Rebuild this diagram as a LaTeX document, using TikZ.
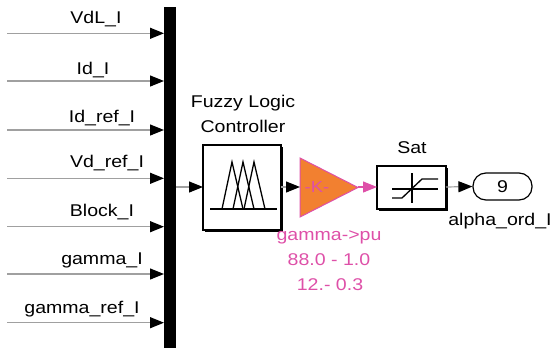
\documentclass[tikz,border=0pt]{standalone}
\usepackage{fontspec}
\setmainfont{Liberation Sans}[FakeStretch=1.15]
\usetikzlibrary{arrows.meta,shapes.geometric}
\definecolor{gainorange}{RGB}{242,128,48}
\definecolor{simpink}{RGB}{222,80,168}
\definecolor{sigline}{RGB}{160,160,160}
\tikzset{
  lbl/.style={anchor=base,inner sep=0pt,font=\fontsize{17}{19}\selectfont},
  pinklbl/.style={lbl,text=simpink},
  sig/.style={draw=sigline,line width=1.2pt,-{Triangle[length=14pt,width=11pt,color=black]}},
  pinksig/.style={draw=simpink,line width=1.2pt,-{Triangle[length=14pt,width=11pt,color=simpink]}},
  blk/.style={draw=black,line width=1.4pt,fill=white},
  shadow/.style={fill=black}
}
\begin{document}
\begin{tikzpicture}[x=1pt,y=-1pt]
\useasboundingbox (0,0) rectangle (552,351);
% bus bar
\fill[black] (164,7) rectangle (176,348);
\coordinate (busout) at (176,187);
% inputs
\foreach \n/\y/\cx/\by/\t in {a/33.3/96/23/VdL\_I, b/81/93/74/Id\_I, c/130/102/122/Id\_ref\_I, d/178.3/107/167/Vd\_ref\_I, e/226.7/102/216/Block\_I, f/274/102/264/gamma\_I, g/322.7/82/313/gamma\_ref\_I}{
  \coordinate (s\n) at (7,\y);
  \coordinate (t\n) at (164,\y);
  \draw[sig] (s\n) -- (t\n);
  \node[lbl] (l\n) at (\cx,\by) {\t};
}
% fuzzy block
\fill[shadow] (205,147) rectangle (283,232);
\draw[blk] (203,145) rectangle (281,230);
\coordinate (flcin) at (203,187);
\coordinate (flcout) at (281,187);
\draw[line width=1.3pt] (210,209) -- (277,209);
\draw[line width=1.3pt] (222,209) -- (232,162) -- (243,209);
\draw[line width=1.3pt] (233,209) -- (243,162) -- (254,209);
\draw[line width=1.3pt] (244,209) -- (254,162) -- (265,209);
\node[lbl] (fz1) at (243,107) {Fuzzy Logic};
\node[lbl] (fz2) at (243,132) {Controller};
\draw[sig] (busout) -- (flcin);
% gain
\draw[draw=simpink,fill=gainorange,line width=1pt] (300,158) -- (300,217) -- (358,187.5) -- cycle;
\coordinate (gin) at (300,187);
\coordinate (gout) at (358,187);
\node[inner sep=0pt,text=simpink,font=\fontsize{16}{18}\selectfont] (K) at (317,187) {-K-};
\draw[sig] (flcout) -- (gin);
\node[pinklbl] (g1) at (329,240) {gamma->pu};
\node[pinklbl] (g2) at (329,265) {88.0 - 1.0};
\node[pinklbl] (g3) at (330,290) {12.- 0.3};
% saturation
\fill[shadow] (379,168) rectangle (448,211);
\draw[blk] (377,166) rectangle (446,209);
\coordinate (satin) at (377,187);
\coordinate (satout) at (446,187);
\draw[line width=1.3pt] (392,189) -- (438,189);
\draw[line width=1.3pt] (412,173) -- (412,203);
\draw[line width=1.3pt] (392,198) -- (402,198) -- (422,179) -- (438,179);
\node[lbl] (satl) at (412,153) {Sat};
\draw[pinksig] (gout) -- (satin);
% outport
\node[draw,line width=1.2pt,rounded corners=13pt,minimum width=59pt,minimum height=27pt,inner sep=0pt,font=\fontsize{17}{19}\selectfont] (out) at (502.5,186.5) {9};
\draw[sig] (satout) -- (out.west);
\node[lbl] (outl) at (500,225) {alpha\_ord\_I};
\end{tikzpicture}
\end{document}
